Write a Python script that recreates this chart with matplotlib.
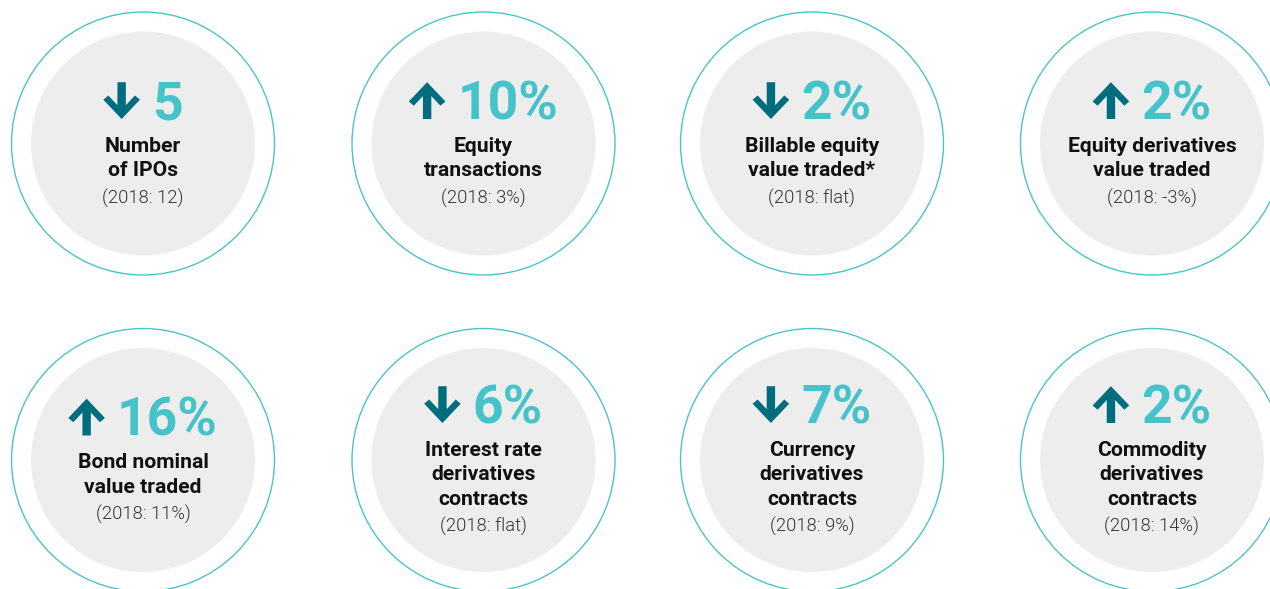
import numpy as np
import matplotlib
matplotlib.use("Agg")
import matplotlib.pyplot as plt
from matplotlib.patches import Circle, Polygon

# values
values = ['5', '10%', '2%', '2%', '16%', '6%', '7%', '2%']
directions = ['down', 'up', 'down', 'up', 'up', 'down', 'down', 'up']
labels = [
    ['Number', 'of IPOs'],
    ['Equity', 'transactions'],
    ['Billable equity', 'value traded*'],
    ['Equity derivatives', 'value traded'],
    ['Bond nominal', 'value traded'],
    ['Interest rate', 'derivatives', 'contracts'],
    ['Currency', 'derivatives', 'contracts'],
    ['Commodity', 'derivatives', 'contracts'],
]
prior = ['(2018: 12)', '(2018: 3%)', '(2018: flat)', '(2018: -3%)',
         '(2018: 11%)', '(2018: flat)', '(2018: 9%)', '(2018: 14%)']

# layout in pixels
col_x = [143, 483.5, 812, 1152]
row_y = [143.5, 460]
R_OUT, R_IN = 131.5, 112

RING = '#4cc3c9'
NUM = '#45c3c9'
ARROW = '#006d7f'
GRAY = '#ededed'

plt.rcParams['font.family'] = ['Roboto', 'DejaVu Sans']

fig = plt.figure(figsize=(12.7, 5.89), dpi=100)
ax = fig.add_axes([0, 0, 1, 1])
ax.set_xlim(0, 1270)
ax.set_ylim(589, 0)
ax.set_aspect('equal')
ax.axis('off')

renderer = fig.canvas.get_renderer()

# arrow shape (up), tip at origin, y downward
up_shape = np.array([(0, 0), (18.3, 19.3), (13.3, 23.5), (4.2, 13.8), (4.2, 36.8),
                     (-4.2, 36.8), (-4.2, 13.8), (-13.3, 23.5), (-18.3, 19.3)])

for i in range(8):
    cx = col_x[i % 4]
    cy = row_y[i // 4]
    ax.add_patch(Circle((cx, cy), R_OUT, fill=False, ec=RING, lw=1.0))
    ax.add_patch(Circle((cx, cy), R_IN, fc=GRAY, ec='none'))

    n = len(labels[i])
    shift = -(n - 2) * 12.5
    base = cy - 24 + shift

    # big number, measure width to centre arrow + number together
    t = ax.text(0, base, values[i], fontsize=38.5, fontweight='bold',
                color=NUM, ha='left', va='baseline')
    bb = t.get_window_extent(renderer)
    num_w = bb.width
    arrow_w, gap = 36.6, 12
    left = cx - (arrow_w + gap + num_w) / 2
    t.set_x(left + arrow_w + gap)

    ax_c = left + arrow_w / 2
    if directions[i] == 'up':
        pts = up_shape + [ax_c, base - 37.3]
    else:
        pts = np.column_stack([up_shape[:, 0], 36.8 - up_shape[:, 1]]) + [ax_c, base - 37.3]
    ax.add_patch(Polygon(pts, closed=True, fc=ARROW, ec='none'))

    y = cy + 8.5 + shift
    for line in labels[i]:
        ax.text(cx, y, line, fontsize=15.2, fontweight='bold', color='#111111',
                ha='center', va='baseline')
        y += 24.5
    ax.text(cx, y + 2.5, prior[i], fontsize=13.2, fontweight=300, color='#333333',
            ha='center', va='baseline')

fig.savefig('out.png', dpi=100, facecolor='white')
